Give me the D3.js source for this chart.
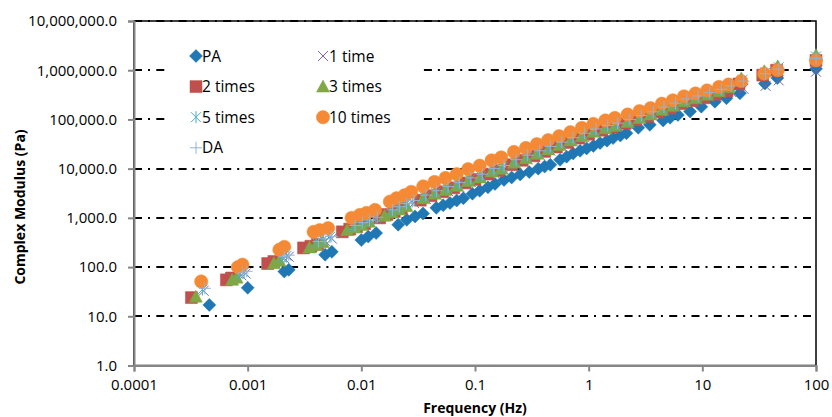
<!DOCTYPE html>
<html>
<head>
<meta charset="utf-8">
<script src="https://cdn.jsdelivr.net/npm/d3@7"></script>
<style>
  body { margin: 0; background: #fff; }
  svg { display: block; }
  text { font-family: "Open Sans", Lato, sans-serif; fill: #000; }
</style>
</head>
<body>
<div id="chart"></div>
<script>
var width = 832, height = 417;
var margin = { top: 21, right: 16, bottom: 51.5, left: 134 };

// [frequency (Hz), complex modulus (Pa)]
var pa = [[0.00046,17],[0.00100,38],[0.0021,81],[0.0023,88],[0.0048,178],[0.0055,204],[0.0100,355],[0.0115,417],[0.0135,490],[0.0211,724],[0.0251,912],[0.0297,1070],[0.0349,1230],[0.0457,1600],[0.0525,1800],[0.0603,2000],[0.069,2250],[0.079,2500],[0.095,3100],[0.11,3550],[0.13,4170],[0.15,4900],[0.18,5900],[0.21,6600],[0.25,7600],[0.30,8500],[0.36,10000],[0.41,11000],[0.46,12000],[0.56,15100],[0.64,17500],[0.73,20400],[0.84,23000],[0.96,25700],[1.1,29000],[1.26,33100],[1.45,37000],[1.64,41700],[1.9,47000],[2.15,52500],[2.73,67600],[3.45,77600],[4.52,95500],[5.2,108000],[6.1,123000],[7.8,145000],[9.8,182000],[12.9,229000],[16.3,269000],[21.4,339000],[35.5,537000],[45.7,692000],[100,1070000]];
var oneTime = [[0.00041,33],[0.00088,68],[0.00096,74],[0.0021,150],[0.0023,162],[0.0042,300],[0.0048,340],[0.0055,380],[0.0088,640],[0.0102,730],[0.0118,830],[0.0138,940],[0.0188,1300],[0.0216,1500],[0.025,1750],[0.029,2000],[0.037,2400],[0.046,2950],[0.058,3500],[0.073,4200],[0.092,5300],[0.116,6300],[0.147,8200],[0.18,9500],[0.23,12500],[0.29,15400],[0.37,19000],[0.46,23300],[0.58,28700],[0.73,35300],[0.92,43500],[1.16,53000],[1.47,62000],[1.8,70000],[2.3,84000],[2.9,100000],[3.7,119000],[4.6,148000],[5.8,178000],[7.3,215000],[9.2,240000],[11.6,275000],[14.7,320000],[18,360000],[23,420000],[36,480000],[47,620000],[100,930000]];
var twoTimes = [[0.00032,24],[0.00065,55],[0.00072,60],[0.0015,118],[0.0017,130],[0.0031,245],[0.0036,265],[0.0041,290],[0.0068,520],[0.0079,590],[0.0091,660],[0.0107,760],[0.0145,1000],[0.0168,1170],[0.0195,1350],[0.0225,1550],[0.033,2290],[0.041,2820],[0.052,3390],[0.065,4070],[0.082,5130],[0.10,6030],[0.13,7760],[0.16,9120],[0.21,12000],[0.26,14800],[0.33,18200],[0.41,22400],[0.52,27500],[0.65,33900],[0.82,41700],[1.0,50100],[1.3,60300],[1.6,69200],[2.1,83200],[2.6,97700],[3.3,115000],[4.1,141000],[5.2,170000],[6.5,209000],[8.2,240000],[10.3,275000],[13,324000],[16.5,380000],[21,525000],[34,794000],[45,1000000],[100,1580000]];
var threeTimes = [[0.00035,25],[0.00073,55],[0.0008,61],[0.0017,120],[0.0019,135],[0.0035,250],[0.004,280],[0.0046,320],[0.0075,560],[0.0087,640],[0.010,720],[0.0117,830],[0.016,1100],[0.0185,1280],[0.0215,1480],[0.025,1720],[0.035,2500],[0.044,3100],[0.055,3700],[0.069,4470],[0.087,5600],[0.11,6600],[0.14,8700],[0.17,10000],[0.22,13200],[0.28,16200],[0.35,20000],[0.44,24500],[0.55,30200],[0.69,37200],[0.87,45700],[1.1,56200],[1.4,66000],[1.7,74000],[2.2,89000],[2.8,107000],[3.5,126000],[4.4,158000],[5.5,190000],[6.9,234000],[8.7,269000],[11,316000],[14,372000],[17,450000],[22,680000],[35,955000],[46,1200000],[100,2040000]];
var fiveTimes = [[0.0004,35],[0.00085,72],[0.00093,78],[0.002,155],[0.0022,170],[0.004,320],[0.0046,360],[0.0053,410],[0.0085,680],[0.0099,780],[0.0114,880],[0.0134,1000],[0.0182,1400],[0.021,1620],[0.0245,1880],[0.028,2150],[0.036,2700],[0.045,3300],[0.057,4000],[0.071,4800],[0.09,6000],[0.113,7100],[0.144,9300],[0.175,10700],[0.226,14100],[0.288,17400],[0.36,21400],[0.45,26200],[0.57,32300],[0.71,39800],[0.9,48900],[1.13,60000],[1.44,70600],[1.75,79000],[2.26,95000],[2.88,114000],[3.6,135000],[4.5,169000],[5.7,203000],[7.1,250000],[9.0,288000],[11.3,338000],[14.4,398000],[17.5,470000],[22.6,640000],[36,900000],[47,1150000],[100,1900000]];
var tenTimes = [[0.00039,51],[0.00082,100],[0.0009,112],[0.0019,225],[0.0021,258],[0.0038,520],[0.0043,565],[0.0051,620],[0.0082,1000],[0.0097,1150],[0.0111,1260],[0.0132,1450],[0.0178,2140],[0.0204,2510],[0.024,2880],[0.0275,3390],[0.035,4370],[0.044,5370],[0.055,6460],[0.069,7760],[0.087,9770],[0.11,11500],[0.14,14800],[0.17,17000],[0.22,21900],[0.28,26300],[0.35,31600],[0.44,38000],[0.55,45700],[0.69,55000],[0.87,67600],[1.1,81300],[1.4,95500],[1.7,107000],[2.2,126000],[2.8,148000],[3.5,170000],[4.4,209000],[5.5,245000],[6.9,295000],[8.7,339000],[11,389000],[14,457000],[17,513000],[22,603000],[35,851000],[46,1000000],[100,1580000]];
var da = [[0.00042,37],[0.0009,76],[0.00098,82],[0.0021,162],[0.0023,175],[0.0042,330],[0.0048,375],[0.0055,420],[0.0088,700],[0.0102,800],[0.0118,900],[0.0138,1030],[0.0188,1450],[0.0216,1680],[0.025,1950],[0.029,2250],[0.037,2900],[0.046,3550],[0.058,4300],[0.073,5200],[0.092,6500],[0.116,7700],[0.147,10000],[0.18,11600],[0.23,15200],[0.29,18800],[0.37,23000],[0.46,28200],[0.58,34700],[0.73,42700],[0.92,52500],[1.16,64000],[1.47,75000],[1.8,84000],[2.3,100000],[2.9,120000],[3.7,143000],[4.6,178000],[5.8,214000],[7.3,260000],[9.2,300000],[11.6,350000],[14.7,410000],[18,480000],[23,600000],[36,850000],[47,1050000],[100,1750000]];

var seriesNames = ["PA", "1 time", "2 times", "3 times", "5 times", "10 times", "DA"];
var seriesData = [pa, oneTime, twoTimes, threeTimes, fiveTimes, tenTimes, da];
var seriesColors = ["#1f77b4", "#8064a2", "#c0504d", "#7fa845", "#4bacc6", "#f48a35", "#95b3d7"];
var seriesMarkers = ["diamond", "x", "square", "triangle", "star", "circle", "plus"];

var xTicks = [0.0001, 0.001, 0.01, 0.1, 1, 10, 100];
var xTickLabels = ["0.0001", "0.001", "0.01", "0.1", "1", "10", "100"];
var yTicks = [1, 10, 100, 1000, 10000, 100000, 1000000, 10000000];

var svg = d3.select("#chart").append("svg")
    .attr("width", width)
    .attr("height", height);

var x = d3.scaleLog().domain([0.0001, 100]).range([margin.left, width - margin.right]);
var y = d3.scaleLog().domain([1, 10000000]).range([height - margin.bottom, margin.top]);

// plot border (top / right black)
svg.append("rect")
    .attr("x", margin.left).attr("y", margin.top)
    .attr("width", x(100) - margin.left).attr("height", y(1) - margin.top)
    .attr("fill", "none").attr("stroke", "#000").attr("stroke-width", 1.5);

// dash-dot gridlines
svg.append("g").selectAll("line")
    .data(yTicks.slice(1))
    .enter().append("line")
    .attr("x1", margin.left).attr("x2", x(100))
    .attr("y1", d => Math.round(y(d))).attr("y2", d => Math.round(y(d)))
    .attr("stroke", "#000").attr("stroke-width", 2)
    .attr("stroke-dasharray", "8,6,2,6.3");

// axes
var xAxis = svg.append("g")
    .attr("transform", "translate(0," + y(1) + ")")
    .call(d3.axisBottom(x).tickValues(xTicks).tickFormat((d, i) => xTickLabels[i]).tickSize(6).tickPadding(8));
var yAxis = svg.append("g")
    .attr("transform", "translate(" + margin.left + ",0)")
    .call(d3.axisLeft(y).tickValues(yTicks).tickFormat(d3.format(",.1f")).tickSize(6).tickPadding(11));
[xAxis, yAxis].forEach(function (g) {
    g.select(".domain").attr("stroke", "#868686").attr("stroke-width", 2);
    g.selectAll(".tick line").attr("stroke", "#868686").attr("stroke-width", 2);
    g.selectAll(".tick text").attr("font-family", "'Open Sans', sans-serif").attr("font-size", 15).attr("fill", "#000");
});

function markerPath(type) {
    switch (type) {
        case "diamond": return "M0,-6.5L6.5,0L0,6.5L-6.5,0Z";
        case "square": return "M-6,-6H6V6H-6Z";
        case "triangle": return "M0,-6.5L6.5,5.5L-6.5,5.5Z";
        case "circle": return d3.symbol(d3.symbolCircle, 138)();
        case "x": return "M-5,-5L5,5M-5,5L5,-5";
        case "star": return "M-5,-5L5,5M-5,5L5,-5M0,-6V6";
        case "plus": return "M-6,0H6M0,-6V6";
    }
}
function styleMarker(sel, i) {
    var open = ["x", "star", "plus"].indexOf(seriesMarkers[i]) >= 0;
    sel.attr("d", markerPath(seriesMarkers[i]))
        .attr("fill", open ? "none" : seriesColors[i])
        .attr("stroke", seriesColors[i])
        .attr("stroke-width", open ? 1 : 0.5);
}

// series
seriesData.forEach(function (data, i) {
    svg.append("g").selectAll("path")
        .data(data)
        .enter().append("path")
        .attr("transform", d => "translate(" + x(d[0]) + "," + y(d[1]) + ")")
        .call(styleMarker, i);
});

// legend
var legend = svg.append("g");
legend.append("rect")
    .attr("x", 166).attr("y", 29).attr("width", 256).attr("height", 133)
    .attr("fill", "#fff");
seriesNames.forEach(function (name, i) {
    var col = i % 2, row = Math.floor(i / 2);
    var lx = col === 0 ? 196 : 323, ly = 56 + row * 30.6;
    legend.append("path")
        .attr("transform", "translate(" + lx + "," + ly + ")")
        .call(styleMarker, i);
    legend.append("text")
        .attr("x", lx + 6).attr("y", ly + 5.5)
        .attr("font-size", 15.5)
        .text(name);
});

// axis titles
svg.append("text")
    .attr("x", (x(0.0001) + x(100)) / 2).attr("y", 413)
    .attr("text-anchor", "middle")
    .attr("font-size", 14).attr("font-weight", "bold")
    .text("Frequency (Hz)");
svg.append("text")
    .attr("transform", "translate(25," + 207 + ") rotate(-90)")
    .attr("text-anchor", "middle")
    .attr("font-size", 14).attr("font-weight", "bold")
    .text("Complex Modulus (Pa)");
</script>
</body>
</html>
